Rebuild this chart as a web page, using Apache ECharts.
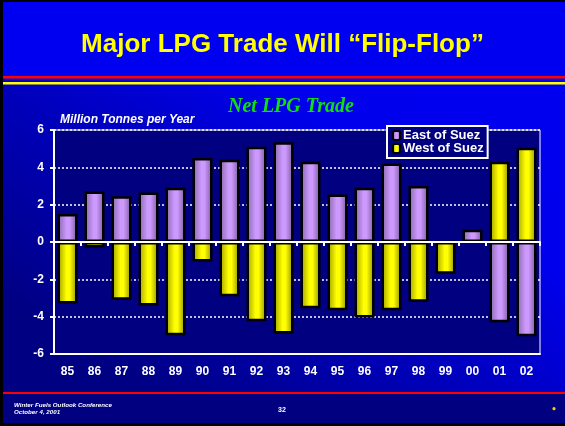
<!DOCTYPE html>
<html><head><meta charset="utf-8">
<script src="https://cdn.jsdelivr.net/npm/echarts@6/dist/echarts.min.js"></script>
<style>html,body{margin:0;padding:0;background:#000080}#c{width:565px;height:426px}</style>
</head><body><div id="c"></div>
<script>
// ---- data ----
const years = ['85','86','87','88','89','90','91','92','93','94','95','96','97','98','99','00','01','02'];
const eastOfSuez = [1.5, 2.7, 2.45, 2.65, 2.9, 4.5, 4.4, 5.1, 5.35, 4.3, 2.55, 2.9, 4.2, 3.0, 0, 0.65, -4.3, -5.05];
const westOfSuez = [-3.3, -0.3, -3.1, -3.4, -5.0, -1.05, -2.9, -4.25, -4.9, -3.55, -3.65, -4.05, -3.65, -3.2, -1.7, 0, 4.3, 5.05];
const yMin = -6, yMax = 6, yStep = 2;
const seriesNames = ['East of Suez', 'West of Suez'];
const titleText = 'Major LPG Trade Will \u201CFlip-Flop\u201D';
const subtitleText = 'Net LPG Trade';
const unitText = 'Million Tonnes per Year';
const footerLines = ['Winter Fuels Outlook Conference', 'October 4, 2001'];
const pageNumber = '32';

const SANS = '"Liberation Sans", Arial, sans-serif';
const SERIF = '"Liberation Serif", "Times New Roman", serif';

const grad = (c0, c1, c2) => new echarts.graphic.LinearGradient(0, 0, 1, 0, [
  {offset: 0, color: c0}, {offset: 0.45, color: c1}, {offset: 0.6, color: c1}, {offset: 1, color: c2}
]);
const purpleFill = grad('#8466a4', '#cc99ff', '#785a96');
const yellowFill = grad('#9c9c00', '#ffff00', '#8a8a00');

const chart = echarts.init(document.getElementById('c'), null, {renderer: 'canvas'});

const option = {
  backgroundColor: 'transparent',
  animation: false,
  graphic: [
    {type: 'rect', z: -10, silent: true, shape: {x: 0, y: 0, width: 565, height: 426},
     style: {fill: new echarts.graphic.LinearGradient(0.75, 0, 0.25, 1, [
       {offset: 0, color: '#0000f0'}, {offset: 0.3, color: '#0000ec'}, {offset: 0.95, color: '#000082'}])}},
    {type: 'rect', z: -9, silent: true, shape: {x: 0, y: 0, width: 565, height: 80}, style: {fill: '#0000f0'}},
    {type: 'rect', z: -9, silent: true, shape: {x: 0, y: 393, width: 565, height: 33}, style: {fill: '#000080'}},
    {type: 'rect', z: -8, silent: true, shape: {x: 3, y: 76, width: 562, height: 2.5}, style: {fill: '#ff0000'}},
    {type: 'rect', z: -8, silent: true, shape: {x: 3, y: 82, width: 562, height: 2.5}, style: {fill: '#ffff00'}},
    {type: 'rect', z: -8, silent: true, shape: {x: 3, y: 392, width: 562, height: 2}, style: {fill: '#ff0000'}},
    {type: 'rect', z: -7, silent: true, shape: {x: 0, y: 0, width: 3, height: 426}, style: {fill: '#000000'}},
    {type: 'rect', z: -7, silent: true, shape: {x: 0, y: 0, width: 565, height: 2}, style: {fill: '#000000'}},
    {type: 'rect', z: -7, silent: true, shape: {x: 0, y: 423, width: 565, height: 3}, style: {fill: '#000000'}},
    {type: 'text', silent: true, left: 14, top: 402, style: {text: footerLines.join('\n'), fill: '#ffffff',
      font: 'italic bold 6.2px ' + SANS, lineHeight: 6.6}},
    {type: 'text', silent: true, left: 278, top: 407, style: {text: pageNumber, fill: '#ffffff', font: 'bold 7px ' + SANS}},
    {type: 'circle', silent: true, shape: {cx: 554, cy: 408.7, r: 1.6}, style: {fill: '#ffcc00'}}
  ],
  title: [
    {text: titleText, left: 'center', top: 27,
     textStyle: {color: '#ffff00', fontFamily: SANS, fontWeight: 'bold', fontSize: 26}},
    {text: subtitleText, left: 223, top: 92,
     textStyle: {color: '#11dd11', fontFamily: SERIF, fontWeight: 'bold', fontStyle: 'italic', fontSize: 20}}
  ],
  legend: {
    orient: 'vertical', left: 387, top: 126, data: seriesNames,
    backgroundColor: '#000080', borderColor: '#ffffff', borderWidth: 2,
    padding: [3, 4, 3, 5], itemGap: 0, itemWidth: 7, itemHeight: 9,
    textStyle: {color: '#ffffff', fontFamily: SANS, fontWeight: 'bold', fontSize: 13, lineHeight: 12, padding: [0, 0, 0, -2]}
  },
  grid: {left: 54, top: 130, width: 486, height: 224, show: true, backgroundColor: '#000080',
    borderColor: '#ffffff', borderWidth: 1, containLabel: false},
  xAxis: [
    {type: 'category', data: years, position: 'bottom',
     axisLine: {show: true, onZero: false, lineStyle: {color: '#ffffff', width: 2}},
     axisTick: {show: false},
     axisLabel: {color: '#ffffff', fontFamily: SANS, fontWeight: 'bold', fontSize: 12, margin: 12},
     splitLine: {show: false}},
    {type: 'category', data: years, position: 'bottom', z: 10,
     axisLine: {show: true, onZero: true, lineStyle: {color: '#ffffff', width: 2}},
     axisTick: {show: true, length: 4, lineStyle: {color: '#ffffff', width: 2}},
     axisLabel: {show: false}, splitLine: {show: false}}
  ],
  yAxis: {
    type: 'value', min: yMin, max: yMax, interval: yStep,
    name: unitText, nameLocation: 'end', nameGap: 4,
    nameTextStyle: {color: '#ffffff', fontFamily: SANS, fontWeight: 'bold', fontStyle: 'italic', fontSize: 12,
      align: 'left', padding: [0, 0, 0, 6]},
    axisLine: {show: true, lineStyle: {color: '#ffffff', width: 2}},
    axisTick: {show: true, length: 4, lineStyle: {color: '#ffffff', width: 2}},
    axisLabel: {color: '#ffffff', fontFamily: SANS, fontWeight: 'bold', fontSize: 12, margin: 10},
    splitLine: {show: true, lineStyle: {color: '#ffffff', width: 1.5, type: [2, 2]}}
  },
  series: [
    {name: seriesNames[0], type: 'bar', data: eastOfSuez, barWidth: 20, barGap: '-100%',
     itemStyle: {color: purpleFill, borderColor: '#000000', borderWidth: 2.5}},
    {name: seriesNames[1], type: 'bar', data: westOfSuez, barWidth: 20, barGap: '-100%',
     itemStyle: {color: yellowFill, borderColor: '#000000', borderWidth: 2.5}}
  ]
};
chart.setOption(option);
</script>
</body></html>
